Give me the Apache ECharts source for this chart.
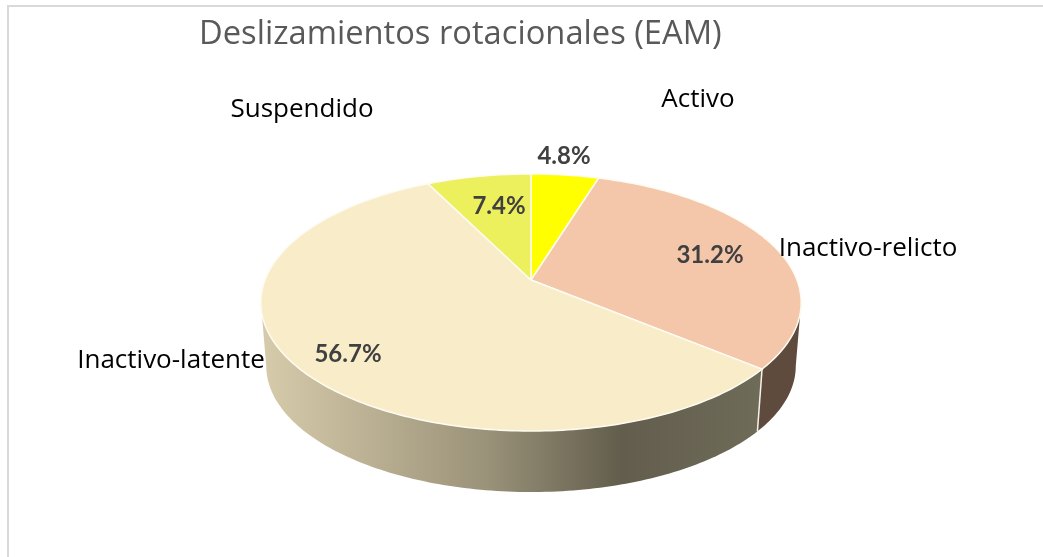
<!DOCTYPE html>
<html>
<head>
<meta charset="utf-8">
<title>Deslizamientos rotacionales (EAM)</title>
<script src="https://cdn.jsdelivr.net/npm/echarts@6/dist/echarts.min.js"></script>
<style>
  html, body { margin: 0; padding: 0; background: #fff; }
  #main { width: 1043px; height: 557px; }
</style>
</head>
<body>
<div id="main"></div>
<script>
const titleText = 'Deslizamientos rotacionales (EAM)';
const categories = ['Activo', 'Inactivo-relicto', 'Inactivo-latente', 'Suspendido'];
const shares = [4.8, 31.2, 56.7, 7.4];

const topColors = ['#ffff00', '#f4c7aa', '#f9edc9', '#ecf05c'];
// name and percent label anchors, px
const nameSpots = [[698, 100], [868, 249], [171, 361], [302, 110]];
const shareSpots = [[564, 156], [710, 255], [348, 354], [499, 206]];

// perspective disc
const cx = 531, apexY = 280, radX = 266, radY = 124.6, tilt = 0.175;
const wallDrop = 61, wallShrink = 0.98;
const total = shares.reduce((a, b) => a + b, 0);

function rim(deg) {
  const t = deg * Math.PI / 180;
  const u = Math.sin(t), v = -Math.cos(t), w = 1 - tilt * v;
  return [cx + radX * u / w, apexY + radY * v / w];
}
function lowRim(deg) {
  const p = rim(deg);
  const bottom = apexY + radY / (1 - tilt);
  return [cx + (p[0] - cx) * wallShrink, bottom + wallDrop + (p[1] - bottom) * wallShrink];
}
function arcPoints(fn, a, b) {
  const pts = [];
  const n = Math.max(2, Math.ceil(Math.abs(b - a)));
  for (let i = 0; i <= n; i++) pts.push(fn(a + (b - a) * i / n));
  return pts;
}

const wallFills = {
  1: '#5f4b3d',
  2: new echarts.graphic.LinearGradient(0, 0, 1, 0, [
    { offset: 0, color: '#d6cbaa' },
    { offset: 0.2, color: '#bdb295' },
    { offset: 0.45, color: '#9a9279' },
    { offset: 0.72, color: '#625d4c' },
    { offset: 1, color: '#6f6b59' }
  ])
};
// wall shows between the two side tangents of the disc
const wallFrom = 90 + 10, wallTo = 270 - 10;

function renderSlice(params, api) {
  const i = params.dataIndex;
  let before = 0;
  for (let k = 0; k < i; k++) before += shares[k];
  const a = before / total * 360;
  const b = (before + api.value(1)) / total * 360;
  const children = [];

  const wa = Math.max(a, wallFrom), wb = Math.min(b, wallTo);
  if (wb > wa) {
    children.push({
      type: 'polygon',
      shape: { points: arcPoints(rim, wa, wb).concat(arcPoints(lowRim, wb, wa)) },
      style: { fill: wallFills[i] || topColors[i] }
    });
    if (a > wallFrom && a < wallTo) {
      children.push({
        type: 'polyline',
        z2: 2,
        shape: { points: [rim(a), lowRim(a)] },
        style: { stroke: '#f4f1e6', lineWidth: 1.5, fill: null }
      });
    }
  }
  children.push({
    type: 'polygon',
    z2: 5,
    shape: { points: [[cx, apexY]].concat(arcPoints(rim, a, b)) },
    style: { fill: topColors[i], stroke: '#fdfbf2', lineWidth: 1.5 }
  });
  return { type: 'group', children: children };
}

function renderTexts(params, api) {
  const i = params.dataIndex;
  return {
    type: 'group',
    children: [
      {
        type: 'text',
        style: {
          x: nameSpots[i][0], y: nameSpots[i][1], text: categories[i],
          fill: '#000', font: '26px "Open Sans"', align: 'center', verticalAlign: 'middle'
        }
      },
      {
        type: 'text',
        style: {
          x: shareSpots[i][0], y: shareSpots[i][1], text: shares[i].toFixed(1) + '%',
          fill: '#404040', font: 'bold 24px Lato', align: 'center', verticalAlign: 'middle'
        }
      }
    ]
  };
}

const seriesData = categories.map((name, i) => ({ name: name, value: [i, shares[i]] }));

const myChart = echarts.init(document.getElementById('main'));
myChart.setOption({
  animation: false,
  backgroundColor: '#fff',
  title: {
    text: titleText,
    left: 194,
    top: 13,
    textStyle: { color: '#595959', fontSize: 32.7, fontWeight: 'normal', fontFamily: 'Open Sans' }
  },
  graphic: [
    { type: 'line', shape: { x1: 7, y1: 6, x2: 1043, y2: 6 }, style: { stroke: '#d9d9d9', lineWidth: 2 } },
    { type: 'line', shape: { x1: 8, y1: 6, x2: 8, y2: 557 }, style: { stroke: '#d9d9d9', lineWidth: 2 } }
  ],
  series: [
    { type: 'custom', coordinateSystem: 'none', renderItem: renderSlice, data: seriesData, silent: true, z: 2 },
    { type: 'custom', coordinateSystem: 'none', renderItem: renderTexts, data: seriesData, silent: true, z: 3 }
  ]
});
</script>
</body>
</html>
